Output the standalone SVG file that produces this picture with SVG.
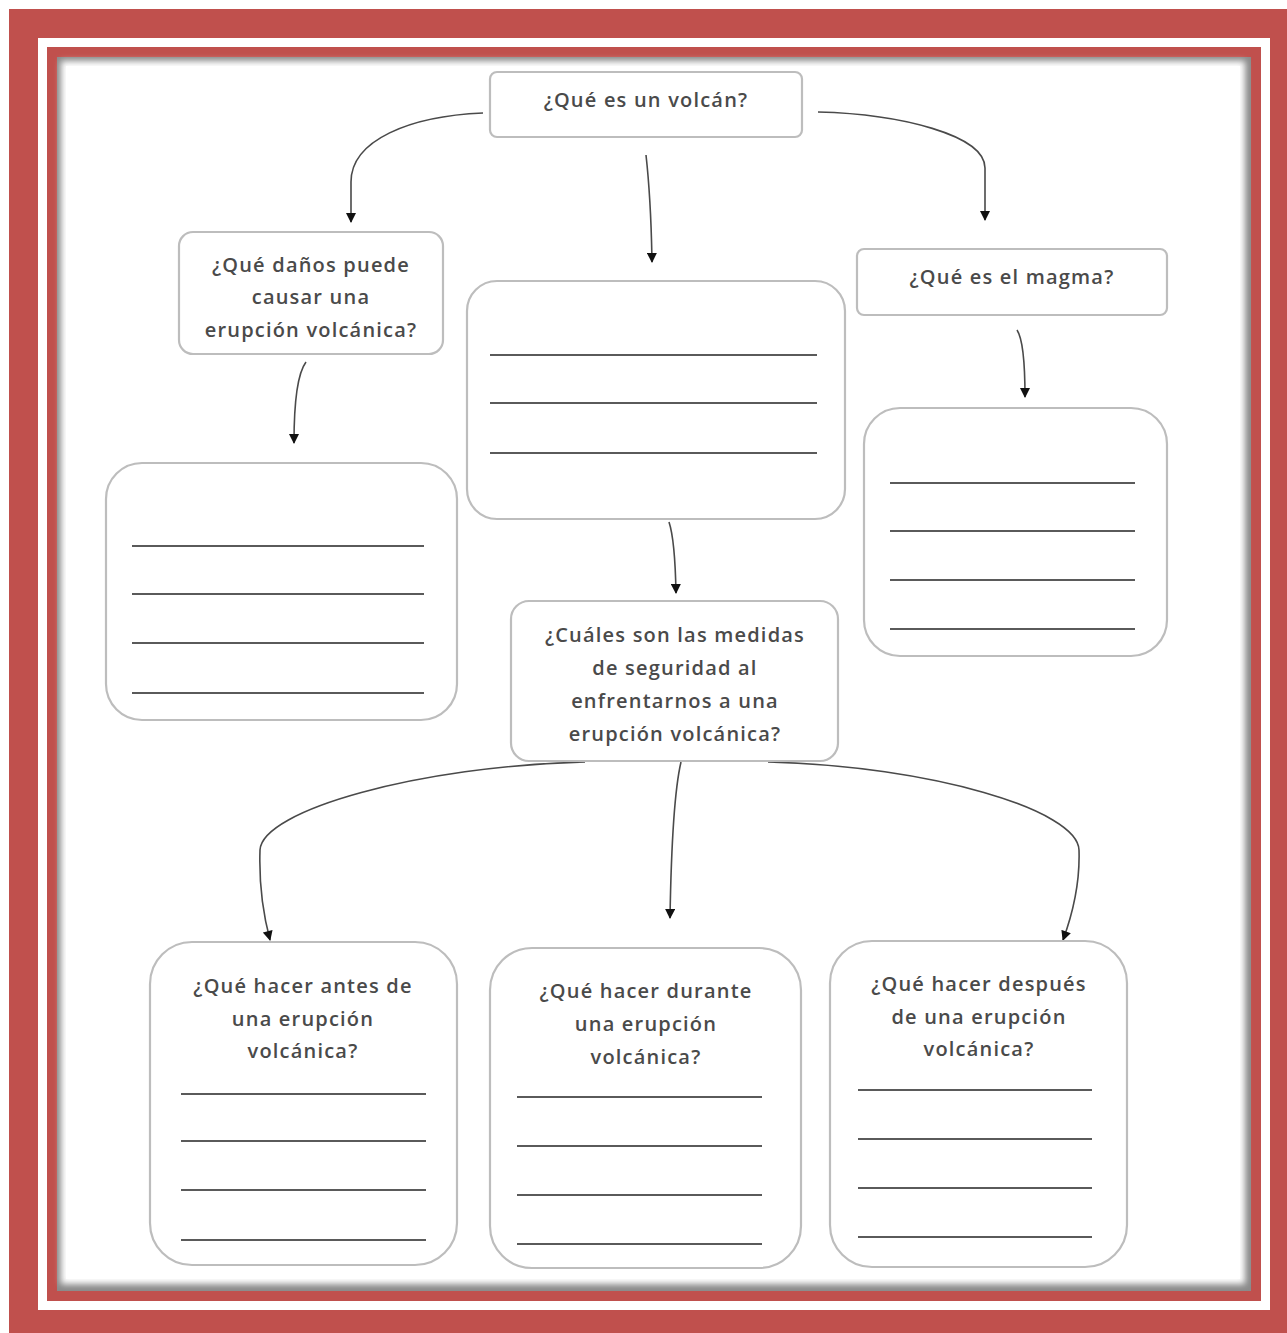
<svg xmlns="http://www.w3.org/2000/svg" width="1287" height="1333" viewBox="0 0 1287 1333">
<style>
.box{fill:#fff;stroke:#bdbdbd;stroke-width:2.2}
.t{font-family:"Open Sans","Noto Sans",sans-serif;font-size:20px;font-weight:600;fill:#4a4a4a;text-anchor:middle;letter-spacing:1.2px}
.wl{stroke:#5a5a5a;stroke-width:2}
.c{fill:none;stroke:#4a4a4a;stroke-width:1.6}
</style>
<defs>
<marker id="ah" viewBox="0 0 10 10" refX="9" refY="5" markerWidth="11" markerHeight="10" orient="auto" markerUnits="userSpaceOnUse">
<path d="M0,0 L10,5 L0,10 z" fill="#111"/>
</marker>
<filter id="bl" x="-5%" y="-5%" width="110%" height="110%"><feGaussianBlur stdDeviation="3"/></filter>
</defs>
<!-- frame -->
<rect x="0" y="0" width="1287" height="1333" fill="#fff"/>
<path d="M9,9 H1287 V1333 H9 Z M38,38 V1310 H1270 V38 Z" fill="#C0504D" fill-rule="evenodd"/>
<path d="M47,47 H1261 V1301 H47 Z M57,57 V1291 H1251 V57 Z" fill="#C0504D" fill-rule="evenodd"/>
<rect x="57" y="57" width="1194" height="1234" fill="#8a8a8a"/>
<rect x="61" y="61" width="1184" height="1223" fill="#fff" filter="url(#bl)"/>
<rect x="66" y="66" width="1174" height="1213" fill="#fff"/>

<g id="connectors">
<path class="c" d="M483,113 C410,116 351,140 351,182 L351,222" marker-end="url(#ah)"/>
<path class="c" d="M818,112 C900,114 985,135 985,168 L985,220" marker-end="url(#ah)"/>
<path class="c" d="M646,155 Q651,200 652,262" marker-end="url(#ah)"/>
<path class="c" d="M306,362 Q294,378 294,443" marker-end="url(#ah)"/>
<path class="c" d="M1017,330 Q1025,342 1025,397" marker-end="url(#ah)"/>
<path class="c" d="M669,522 Q675,540 676,593" marker-end="url(#ah)"/>
<path class="c" d="M585,762 C420,766 262,810 260,850 C259,880 262,910 270,940" marker-end="url(#ah)"/>
<path class="c" d="M681,762 Q672,800 670,918" marker-end="url(#ah)"/>
<path class="c" d="M768,762 C930,766 1078,810 1079,850 C1080,880 1074,910 1063,940" marker-end="url(#ah)"/>
</g>

<g id="n-volcan">
<rect class="box" x="490" y="72" width="312" height="65" rx="7"/>
<text class="t" x="646" y="107">¿Qué es un volcán?</text>
</g>
<g id="n-danos">
<rect class="box" x="179" y="232" width="264" height="122" rx="14"/>
<text class="t" x="311" y="272">¿Qué daños puede</text>
<text class="t" x="311" y="304">causar una</text>
<text class="t" x="311" y="337">erupción volcánica?</text>
</g>
<g id="n-centro">
<rect class="box" x="467" y="281" width="378" height="238" rx="30"/>
<line class="wl" x1="490" y1="355" x2="817" y2="355"/>
<line class="wl" x1="490" y1="403" x2="817" y2="403"/>
<line class="wl" x1="490" y1="453" x2="817" y2="453"/>
</g>
<g id="n-magma">
<rect class="box" x="857" y="249" width="310" height="66" rx="7"/>
<text class="t" x="1012" y="284">¿Qué es el magma?</text>
</g>
<g id="n-izq">
<rect class="box" x="106" y="463" width="351" height="257" rx="36"/>
<line class="wl" x1="132" y1="546" x2="424" y2="546"/>
<line class="wl" x1="132" y1="594" x2="424" y2="594"/>
<line class="wl" x1="132" y1="643" x2="424" y2="643"/>
<line class="wl" x1="132" y1="693" x2="424" y2="693"/>
</g>
<g id="n-der">
<rect class="box" x="864" y="408" width="303" height="248" rx="36"/>
<line class="wl" x1="890" y1="483" x2="1135" y2="483"/>
<line class="wl" x1="890" y1="531" x2="1135" y2="531"/>
<line class="wl" x1="890" y1="580" x2="1135" y2="580"/>
<line class="wl" x1="890" y1="629" x2="1135" y2="629"/>
</g>
<g id="n-medidas">
<rect class="box" x="511" y="601" width="327" height="160" rx="18"/>
<text class="t" x="675" y="642">¿Cuáles son las medidas</text>
<text class="t" x="675" y="675">de seguridad al</text>
<text class="t" x="675" y="708">enfrentarnos a una</text>
<text class="t" x="675" y="741">erupción volcánica?</text>
</g>
<g id="n-antes">
<rect class="box" x="150" y="942" width="307" height="323" rx="42"/>
<text class="t" x="303" y="993">¿Qué hacer antes de</text>
<text class="t" x="303" y="1026">una erupción</text>
<text class="t" x="303" y="1058">volcánica?</text>
<line class="wl" x1="181" y1="1094" x2="426" y2="1094"/>
<line class="wl" x1="181" y1="1141" x2="426" y2="1141"/>
<line class="wl" x1="181" y1="1190" x2="426" y2="1190"/>
<line class="wl" x1="181" y1="1240" x2="426" y2="1240"/>
</g>
<g id="n-durante">
<rect class="box" x="490" y="948" width="311" height="320" rx="42"/>
<text class="t" x="646" y="998">¿Qué hacer durante</text>
<text class="t" x="646" y="1031">una erupción</text>
<text class="t" x="646" y="1064">volcánica?</text>
<line class="wl" x1="517" y1="1097" x2="762" y2="1097"/>
<line class="wl" x1="517" y1="1146" x2="762" y2="1146"/>
<line class="wl" x1="517" y1="1195" x2="762" y2="1195"/>
<line class="wl" x1="517" y1="1244" x2="762" y2="1244"/>
</g>
<g id="n-despues">
<rect class="box" x="830" y="941" width="297" height="326" rx="42"/>
<text class="t" x="979" y="991">¿Qué hacer después</text>
<text class="t" x="979" y="1024">de una erupción</text>
<text class="t" x="979" y="1056">volcánica?</text>
<line class="wl" x1="858" y1="1090" x2="1092" y2="1090"/>
<line class="wl" x1="858" y1="1139" x2="1092" y2="1139"/>
<line class="wl" x1="858" y1="1188" x2="1092" y2="1188"/>
<line class="wl" x1="858" y1="1237" x2="1092" y2="1237"/>
</g>
</svg>
